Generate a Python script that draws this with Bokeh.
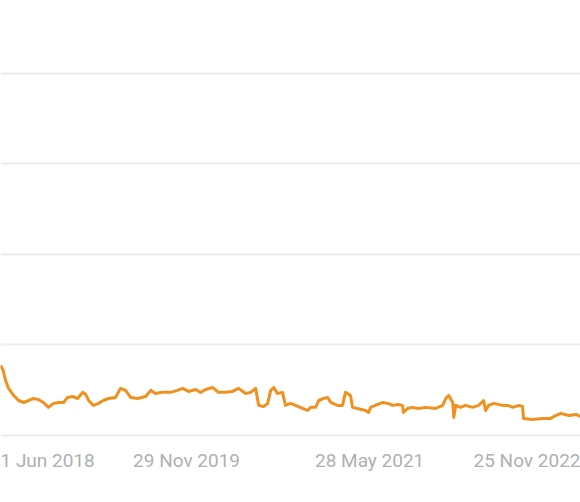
from datetime import datetime
from bokeh.plotting import figure
from bokeh.models import FixedTicker, Range1d
from bokeh.embed import file_html
from bokeh.resources import INLINE

# ---- data ----
dates = [
    "2018-05-23", "2018-05-31", "2018-06-07", "2018-06-16", "2018-07-01", "2018-07-16",
    "2018-07-31", "2018-08-15", "2018-08-29", "2018-09-13", "2018-09-28", "2018-10-13",
    "2018-10-28", "2018-11-12", "2018-11-27", "2018-12-09", "2018-12-24", "2019-01-08",
    "2019-01-23", "2019-02-01", "2019-02-10", "2019-02-24", "2019-03-11", "2019-03-26",
    "2019-04-10", "2019-05-01", "2019-05-16", "2019-05-31", "2019-06-15", "2019-07-06",
    "2019-07-30", "2019-08-14", "2019-08-28", "2019-09-18", "2019-10-12", "2019-11-02",
    "2019-11-17", "2019-12-05", "2019-12-26", "2020-01-10", "2020-01-25", "2020-02-15",
    "2020-03-03", "2020-03-24", "2020-04-14", "2020-05-02", "2020-05-23", "2020-06-07",
    "2020-06-22", "2020-07-01", "2020-07-16", "2020-07-28", "2020-08-06", "2020-08-15",
    "2020-08-26", "2020-09-10", "2020-09-19", "2020-10-04", "2020-10-19", "2020-11-09",
    "2020-11-24", "2020-12-03", "2020-12-18", "2020-12-27", "2021-01-11", "2021-01-23",
    "2021-02-01", "2021-02-21", "2021-03-08", "2021-03-17", "2021-04-01", "2021-04-07",
    "2021-04-22", "2021-05-16", "2021-05-25", "2021-05-31", "2021-06-21", "2021-07-06",
    "2021-07-21", "2021-08-05", "2021-08-20", "2021-09-03", "2021-09-06", "2021-09-18",
    "2021-10-03", "2021-10-21", "2021-11-11", "2021-12-11", "2022-01-01", "2022-01-10",
    "2022-01-19", "2022-01-31", "2022-02-03", "2022-02-09", "2022-02-23", "2022-03-10",
    "2022-03-31", "2022-04-18", "2022-05-03", "2022-05-09", "2022-05-18", "2022-06-02",
    "2022-06-29", "2022-07-14", "2022-07-29", "2022-08-16", "2022-08-27", "2022-08-30",
    "2022-09-26", "2022-10-26", "2022-11-19", "2022-12-04", "2022-12-19", "2023-01-12",
    "2023-02-02", "2023-02-16",
]
values = [
    3.87, 3.59, 3.04, 2.60, 2.21, 1.93,
    1.82, 1.93, 2.04, 1.99, 1.82, 1.55,
    1.77, 1.82, 1.82, 2.10, 2.15, 2.04,
    2.38, 2.27, 1.93, 1.66, 1.77, 1.93,
    2.04, 2.10, 2.60, 2.49, 2.10, 2.04,
    2.15, 2.49, 2.32, 2.38, 2.38, 2.49,
    2.60, 2.43, 2.54, 2.38, 2.54, 2.65,
    2.38, 2.38, 2.43, 2.60, 2.32, 2.38,
    2.60, 1.66, 1.60, 1.77, 2.49, 2.65,
    2.32, 2.38, 1.66, 1.77, 1.66, 1.49,
    1.38, 1.55, 1.55, 1.93, 2.04, 2.10,
    1.82, 1.66, 1.66, 2.38, 2.21, 1.55,
    1.49, 1.38, 1.27, 1.55, 1.71, 1.82,
    1.77, 1.66, 1.71, 1.66, 1.27, 1.49,
    1.55, 1.49, 1.55, 1.49, 1.66, 2.04,
    2.21, 1.82, 0.99, 1.66, 1.55, 1.66,
    1.55, 1.66, 1.93, 1.38, 1.66, 1.77,
    1.66, 1.66, 1.55, 1.66, 1.60, 0.94,
    0.88, 0.94, 0.94, 1.10, 1.22, 1.10,
    1.16, 1.05,
]
tick_dates = ["2018-06-01", "2019-11-29", "2021-05-28", "2022-11-25"]
tick_labels = ["1 Jun 2018", "29 Nov 2019", "28 May 2021", "25 Nov 2022"]
y_gridlines = [0, 5, 10, 15, 20]
x_start, x_end = "2018-05-23", "2023-02-16"
y_start, y_end = -0.17, 24.03


def ms(s):
    return datetime.strptime(s, "%Y-%m-%d").timestamp() * 1000.0


xs = [datetime.strptime(d, "%Y-%m-%d") for d in dates]

p = figure(frame_width=580, frame_height=438, x_axis_type="datetime",
           output_backend="svg", toolbar_location=None,
           x_range=Range1d(ms(x_start), ms(x_end)),
           y_range=Range1d(y_start, y_end),
           min_border_left=0, min_border_right=0, min_border_top=0,
           min_border_bottom=0,
           background_fill_color="white", border_fill_color="white")
p.outline_line_color = None

p.line(xs, values, line_color="#f0901e", line_width=3, line_join="round")

# grid
p.xgrid.grid_line_color = None
p.ygrid.ticker = FixedTicker(ticks=y_gridlines)
p.ygrid.grid_line_color = "#ececec"
p.ygrid.grid_line_width = 2
p.yaxis.visible = False

# x axis
tick_ms = [ms(t) for t in tick_dates]
ax = p.xaxis[0]
ax.ticker = FixedTicker(ticks=tick_ms)
ax.major_label_overrides = {t: l for t, l in zip(tick_ms, tick_labels)}
ax.axis_line_color = None
ax.major_tick_line_color = None
ax.minor_tick_line_color = None
ax.major_tick_out = 0
ax.major_tick_in = 0
ax.major_label_text_font = "Roboto"
ax.major_label_text_font_size = "19px"
ax.major_label_text_color = "#b0b0b0"
ax.major_label_standoff = 10

open("out.html", "w").write(file_html(p, INLINE))
